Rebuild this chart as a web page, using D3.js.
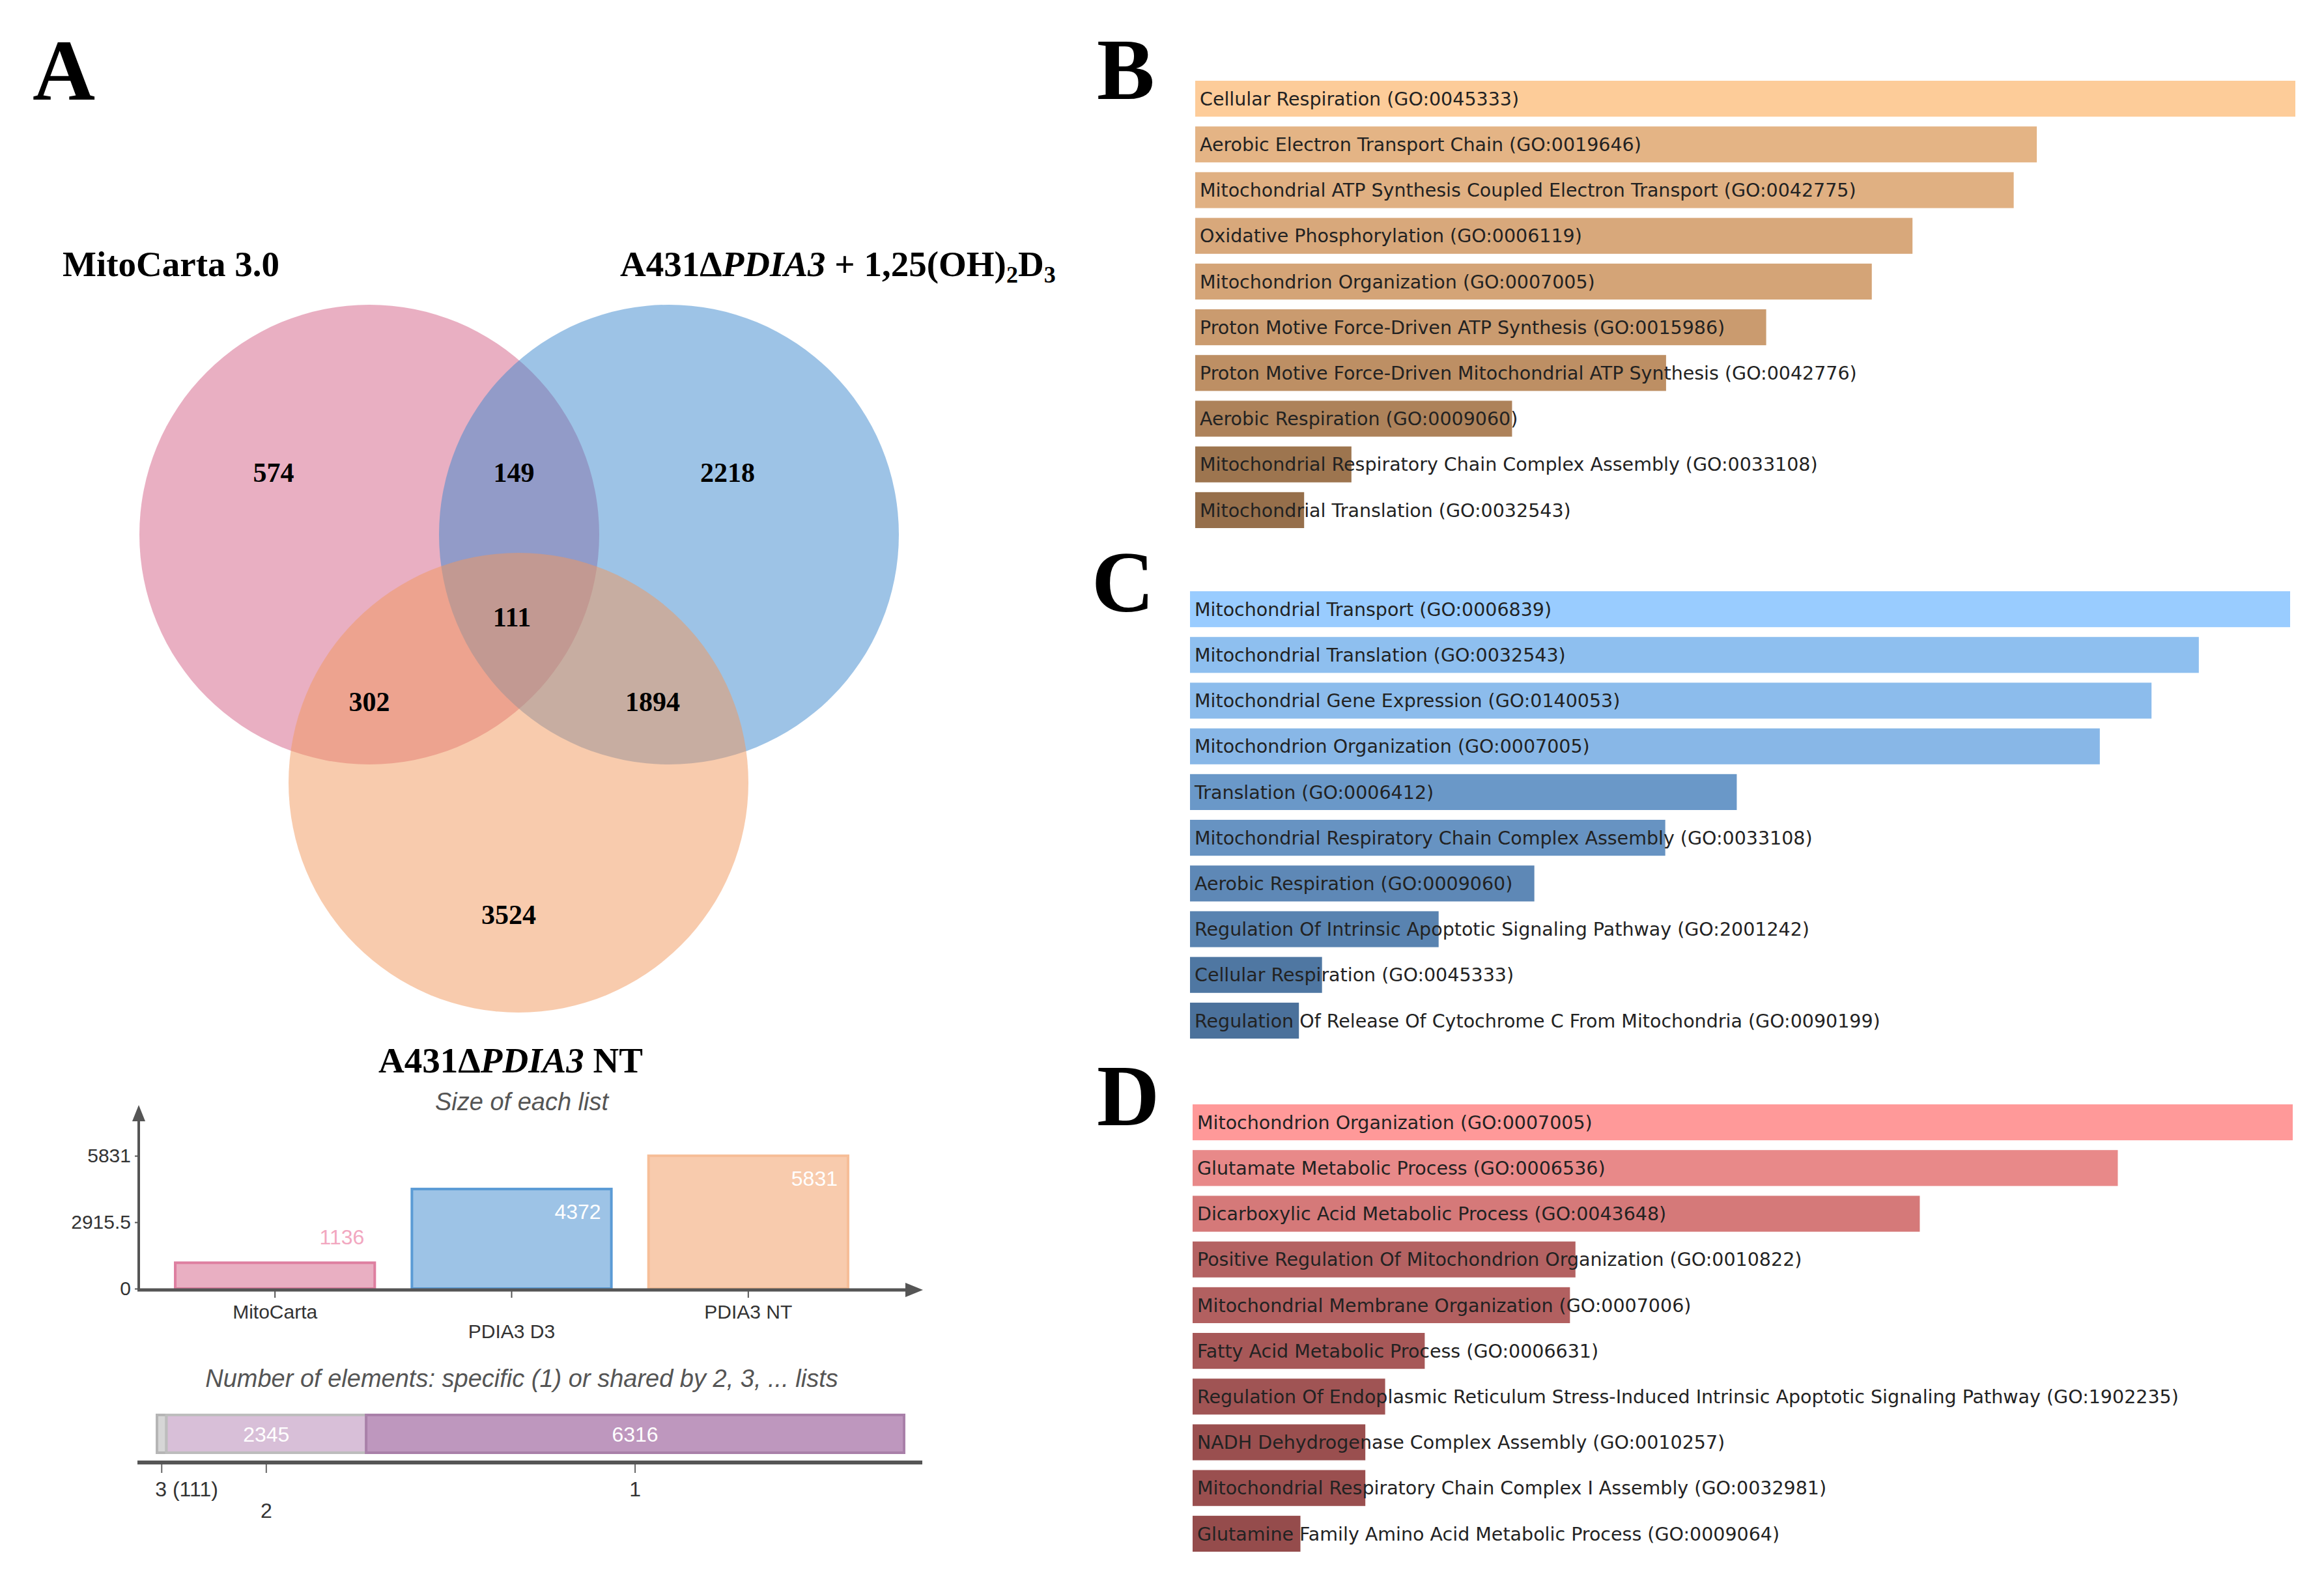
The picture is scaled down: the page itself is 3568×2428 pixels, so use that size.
<!DOCTYPE html>
<html>
<head>
<meta charset="utf-8">
<script src="https://cdn.jsdelivr.net/npm/d3@7"></script>
<style>
  body { margin: 0; background: #fff; }
  text { font-family: "Liberation Sans", Arial, sans-serif; }
  .serif { font-family: "Liberation Serif", "Times New Roman", serif; font-weight: bold; }
  .go { font-family: "DejaVu Sans", Verdana, sans-serif; }
</style>
</head>
<body>
<div id="figure"></div>
<script>
// ---- data ----
// venn region counts
var vennRegions = ["MitoCarta only", "MitoCarta & D3", "D3 only", "all three", "MitoCarta & NT", "D3 & NT", "NT only"];
var vennCounts = [574, 149, 2218, 111, 302, 1894, 3524];

// size of each list
var listNames = ["MitoCarta", "PDIA3 D3", "PDIA3 NT"];
var listSizes = [1136, 4372, 5831];
var sizeTicks = [0, 2915.5, 5831];

// number of elements shared by n lists
var sharedLabels = ["3 (111)", "2", "1"];
var sharedCounts = [111, 2345, 6316];

// enrichment bars (relative score, longest = 100)
var termsB = [
  "Cellular Respiration (GO:0045333)",
  "Aerobic Electron Transport Chain (GO:0019646)",
  "Mitochondrial ATP Synthesis Coupled Electron Transport (GO:0042775)",
  "Oxidative Phosphorylation (GO:0006119)",
  "Mitochondrion Organization (GO:0007005)",
  "Proton Motive Force-Driven ATP Synthesis (GO:0015986)",
  "Proton Motive Force-Driven Mitochondrial ATP Synthesis (GO:0042776)",
  "Aerobic Respiration (GO:0009060)",
  "Mitochondrial Respiratory Chain Complex Assembly (GO:0033108)",
  "Mitochondrial Translation (GO:0032543)"
];
var scoresB = [100, 76.5, 74.4, 65.2, 61.5, 51.9, 42.8, 28.8, 14.2, 9.9];

var termsC = [
  "Mitochondrial Transport (GO:0006839)",
  "Mitochondrial Translation (GO:0032543)",
  "Mitochondrial Gene Expression (GO:0140053)",
  "Mitochondrion Organization (GO:0007005)",
  "Translation (GO:0006412)",
  "Mitochondrial Respiratory Chain Complex Assembly (GO:0033108)",
  "Aerobic Respiration (GO:0009060)",
  "Regulation Of Intrinsic Apoptotic Signaling Pathway (GO:2001242)",
  "Cellular Respiration (GO:0045333)",
  "Regulation Of Release Of Cytochrome C From Mitochondria (GO:0090199)"
];
var scoresC = [100, 91.7, 87.4, 82.7, 49.7, 43.2, 31.3, 22.6, 12.0, 9.9];

var termsD = [
  "Mitochondrion Organization (GO:0007005)",
  "Glutamate Metabolic Process (GO:0006536)",
  "Dicarboxylic Acid Metabolic Process (GO:0043648)",
  "Positive Regulation Of Mitochondrion Organization (GO:0010822)",
  "Mitochondrial Membrane Organization (GO:0007006)",
  "Fatty Acid Metabolic Process (GO:0006631)",
  "Regulation Of Endoplasmic Reticulum Stress-Induced Intrinsic Apoptotic Signaling Pathway (GO:1902235)",
  "NADH Dehydrogenase Complex Assembly (GO:0010257)",
  "Mitochondrial Respiratory Chain Complex I Assembly (GO:0032981)",
  "Glutamine Family Amino Acid Metabolic Process (GO:0009064)"
];
var scoresD = [100, 84.1, 66.1, 34.8, 34.3, 21.1, 17.5, 15.7, 15.7, 9.8];

// ---- styles ----
var paletteB = ["#FDCC99", "#E4B485", "#E0B082", "#D8A87B", "#D4A477", "#CA9B6F", "#BD8F64", "#AD825A", "#9D754F", "#966F4B"];
var paletteC = ["#99CCFF", "#8EBFEF", "#8CBCEC", "#88B7E7", "#6A98C8", "#6793C2", "#5E88B6", "#5983B0", "#4F77A2", "#4B719B"];
var paletteD = ["#FF9999", "#E88989", "#D57979", "#B46262", "#B26060", "#A75858", "#A05454", "#9A4F4F", "#9A4F4F", "#954C4C"];

var W = 3568, H = 2428;
var svg = d3.select("#figure").append("svg")
    .attr("width", W)
    .attr("height", H)
    .style("background", "#fff");

// panel letters
var letters = [["A", 50, 153], ["B", 1684, 152], ["C", 1676, 939], ["D", 1684, 1728]];
svg.selectAll(".letter")
    .data(letters)
    .enter().append("text")
    .attr("class", "serif letter")
    .attr("x", function(d) { return d[1]; })
    .attr("y", function(d) { return d[2]; })
    .style("font-size", "133px")
    .text(function(d) { return d[0]; });

/* ---------- Venn diagram ---------- */
function drawVenn() {
    var g = svg.append("g");
    var r = 353;
    var circles = [
        {cx: 567, cy: 821, fill: "#D35F85"},
        {cx: 1027, cy: 821, fill: "#3B87CD"},
        {cx: 796, cy: 1202, fill: "#F1975B"}
    ];
    g.selectAll("circle")
        .data(circles)
        .enter().append("circle")
        .attr("cx", function(d) { return d.cx; })
        .attr("cy", function(d) { return d.cy; })
        .attr("r", r)
        .attr("fill", function(d) { return d.fill; })
        .attr("fill-opacity", 0.5);

    // label anchor for each region, relative to the circle centres
    var c = circles;
    var anchors = [
        [c[0].cx - 147, c[0].cy - 96],
        [(c[0].cx + c[1].cx) / 2 - 8, c[0].cy - 96],
        [c[1].cx + 90, c[1].cy - 96],
        [(c[0].cx + c[1].cx) / 2 - 11, c[0].cy + 126],
        [c[0].cx, c[2].cy - 125],
        [c[1].cx - 25, c[2].cy - 125],
        [c[2].cx - 15, c[2].cy + 202]
    ];
    g.selectAll(".vnum")
        .data(vennCounts)
        .enter().append("text")
        .attr("class", "serif vnum")
        .attr("x", function(d, i) { return anchors[i][0]; })
        .attr("y", function(d, i) { return anchors[i][1]; })
        .attr("dy", "0.35em")
        .attr("text-anchor", "middle")
        .style("font-size", "42px")
        .text(function(d) { return d; });

    // set titles
    g.append("text").attr("class", "serif")
        .attr("x", 96).attr("y", 424)
        .style("font-size", "55px")
        .text("MitoCarta 3.0");

    var t2 = g.append("text").attr("class", "serif")
        .attr("x", 952).attr("y", 424)
        .style("font-size", "55px");
    t2.append("tspan").text("A431\u0394");
    t2.append("tspan").style("font-style", "italic").text("PDIA3");
    t2.append("tspan").text(" + 1,25(OH)");
    t2.append("tspan").attr("dy", 10).style("font-size", "36px").text("2");
    t2.append("tspan").attr("dy", -10).text("D");
    t2.append("tspan").attr("dy", 10).style("font-size", "36px").text("3");

    var t3 = g.append("text").attr("class", "serif")
        .attr("x", 784).attr("y", 1647)
        .attr("text-anchor", "middle")
        .style("font-size", "55px");
    t3.append("tspan").text("A431\u0394");
    t3.append("tspan").style("font-style", "italic").text("PDIA3");
    t3.append("tspan").text(" NT");
}

/* ---------- size of each list ---------- */
function drawSizeChart() {
    var g = svg.append("g");
    var axisColor = "#555";
    var fills = ["#E9AFC2", "#9DC3E6", "#F8CBAD"];
    var strokes = ["#DE7FA0", "#5B9BD5", "#F6BE98"];
    var labelColors = ["#F2A7C0", "#fff", "#fff"];

    var x = d3.scaleBand()
        .domain(listNames)
        .range([240.5, 1330.5])
        .paddingInner(0.157)
        .paddingOuter(0.0785);
    var y = d3.scaleLinear()
        .domain([0, 5831])
        .range([1979, 1775]);

    g.append("text")
        .attr("x", 801).attr("y", 1705)
        .attr("text-anchor", "middle")
        .style("font-size", "38px").style("font-style", "italic")
        .attr("fill", "#555")
        .text("Size of each list");

    g.selectAll(".sbar")
        .data(listSizes)
        .enter().append("rect")
        .attr("class", "sbar")
        .attr("x", function(d, i) { return x(listNames[i]); })
        .attr("y", function(d) { return y(d); })
        .attr("width", x.bandwidth())
        .attr("height", function(d) { return y(0) - y(d); })
        .attr("fill", function(d, i) { return fills[i]; })
        .attr("stroke", function(d, i) { return strokes[i]; })
        .attr("stroke-width", 4);

    g.selectAll(".slab")
        .data(listSizes)
        .enter().append("text")
        .attr("x", function(d, i) { return x(listNames[i]) + x.bandwidth() - 16; })
        .attr("y", function(d) { return y(d) - y(0) > -80 ? y(d) - 28 : y(d) + 46; })
        .attr("text-anchor", "end")
        .style("font-size", "32px")
        .attr("fill", function(d, i) { return labelColors[i]; })
        .text(function(d) { return d; });

    // axes
    var yAxis = d3.axisLeft(y).tickValues(sizeTicks).tickSize(6).tickPadding(6)
        .tickFormat(function(d) { return d; });
    var ya = g.append("g").attr("transform", "translate(213,0)").call(yAxis);
    ya.select(".domain").remove();
    ya.selectAll("text").style("font-size", "30px").attr("fill", "#333");
    ya.selectAll("line").attr("stroke", axisColor).attr("stroke-width", 2);

    g.append("line").attr("x1", 213).attr("x2", 213).attr("y1", 1981).attr("y2", 1720)
        .attr("stroke", axisColor).attr("stroke-width", 4);
    g.append("path").attr("d", "M203,1722 L213,1697 L223,1722 Z").attr("fill", axisColor);
    g.append("line").attr("x1", 211).attr("x2", 1392).attr("y1", 1981).attr("y2", 1981)
        .attr("stroke", axisColor).attr("stroke-width", 5);
    g.append("path").attr("d", "M1390,1970 L1417,1981 L1390,1992 Z").attr("fill", axisColor);

    g.selectAll(".xtick")
        .data(listNames)
        .enter().append("line")
        .attr("x1", function(d) { return x(d) + x.bandwidth() / 2; })
        .attr("x2", function(d) { return x(d) + x.bandwidth() / 2; })
        .attr("y1", 1983).attr("y2", 1993)
        .attr("stroke", axisColor).attr("stroke-width", 2);
    g.selectAll(".xlab")
        .data(listNames)
        .enter().append("text")
        .attr("x", function(d) { return x(d) + x.bandwidth() / 2; })
        .attr("y", function(d, i) { return i % 2 ? 2055 : 2025; })
        .attr("text-anchor", "middle")
        .style("font-size", "30px")
        .attr("fill", "#333")
        .text(function(d) { return d; });
}

/* ---------- elements shared by n lists ---------- */
function drawSharedBar() {
    var g = svg.append("g");
    var total = d3.sum(sharedCounts);
    var x = d3.scaleLinear().domain([0, total]).range([241, 1388]);
    var fills = ["#D6D6D6", "#D8BFD8", "#BE97BE"];
    var strokes = ["#B5B5B5", "#BDBDBD", "#A980A9"];
    var starts = [];
    var acc = 0;
    sharedCounts.forEach(function(d) { starts.push(acc); acc += d; });

    g.append("text")
        .attr("x", 801).attr("y", 2130)
        .attr("text-anchor", "middle")
        .style("font-size", "38px").style("font-style", "italic")
        .attr("fill", "#555")
        .text("Number of elements: specific (1) or shared by 2, 3, ... lists");

    g.selectAll(".seg")
        .data(sharedCounts)
        .enter().append("rect")
        .attr("x", function(d, i) { return x(starts[i]); })
        .attr("y", 2173)
        .attr("width", function(d) { return x(d) - x(0); })
        .attr("height", 58)
        .attr("fill", function(d, i) { return fills[i]; })
        .attr("stroke", function(d, i) { return strokes[i]; })
        .attr("stroke-width", 4);

    g.selectAll(".seglab")
        .data(sharedCounts)
        .enter().append("text")
        .filter(function(d) { return x(d) - x(0) > 100; })
        .attr("x", function(d) { return x(starts[sharedCounts.indexOf(d)] + d / 2); })
        .attr("y", 2214)
        .attr("text-anchor", "middle")
        .style("font-size", "32px")
        .attr("fill", "#fff")
        .text(function(d) { return d; });

    g.append("line").attr("x1", 211).attr("x2", 1416).attr("y1", 2246).attr("y2", 2246)
        .attr("stroke", "#555").attr("stroke-width", 6);

    g.selectAll(".stick")
        .data(sharedCounts)
        .enter().append("line")
        .attr("x1", function(d, i) { return x(starts[i] + d / 2); })
        .attr("x2", function(d, i) { return x(starts[i] + d / 2); })
        .attr("y1", 2249).attr("y2", 2262)
        .attr("stroke", "#666").attr("stroke-width", 2);

    g.selectAll(".slab")
        .data(sharedLabels)
        .enter().append("text")
        .attr("x", function(d, i) { return x(starts[i] + sharedCounts[i] / 2) - (i === 0 ? 10 : 0); })
        .attr("y", function(d, i) { return i === 1 ? 2331 : 2298; })
        .attr("text-anchor", function(d, i) { return i === 0 ? "start" : "middle"; })
        .style("font-size", "32px")
        .attr("fill", "#333")
        .text(function(d) { return d; });
}

/* ---------- Enrichr style bar panels ---------- */
function drawEnrich(terms, scores, palette, top, left) {
    var g = svg.append("g");
    var x = d3.scaleLinear().domain([0, 100]).range([0, 1689]);
    var y = d3.scaleBand()
        .domain(terms)
        .range([top, top + 702])
        .paddingInner(0.214)
        .paddingOuter(0.107);
    var color = d3.scaleOrdinal().domain(terms).range(palette);

    g.selectAll("rect")
        .data(terms)
        .enter().append("rect")
        .attr("x", left)
        .attr("y", function(d) { return y(d); })
        .attr("width", function(d, i) { return x(scores[i]); })
        .attr("height", y.bandwidth())
        .attr("fill", function(d) { return color(d); });

    g.selectAll("text")
        .data(terms)
        .enter().append("text")
        .attr("class", "go")
        .attr("x", left + 7)
        .attr("y", function(d) { return y(d) + y.bandwidth() / 2; })
        .attr("dy", "0.36em")
        .style("font-size", "28.5px")
        .attr("fill", "#222")
        .text(function(d) { return d; });
}

drawVenn();
drawSizeChart();
drawSharedBar();
drawEnrich(termsB, scoresB, paletteB, 116.5, 1835);
drawEnrich(termsC, scoresC, paletteC, 900.5, 1827);
drawEnrich(termsD, scoresD, paletteD, 1688.5, 1831);
</script>
</body>
</html>
